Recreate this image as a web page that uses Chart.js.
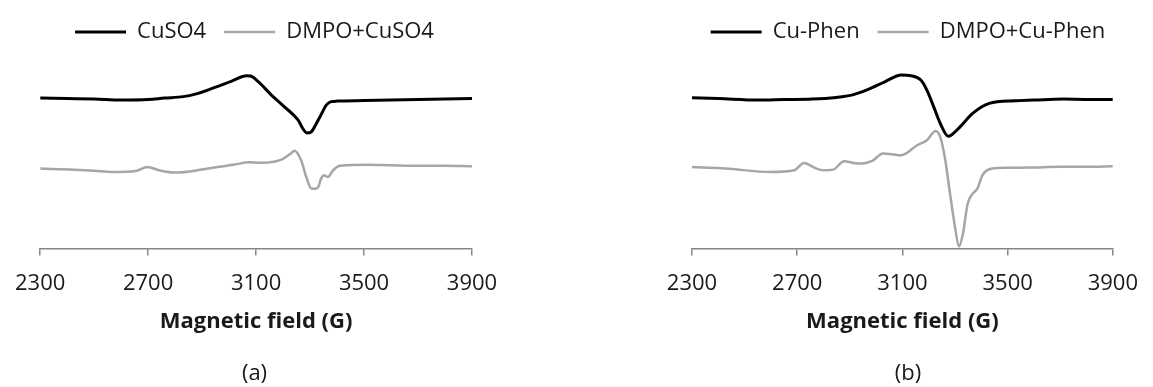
<!DOCTYPE html>
<html lang="en">
<head>
<meta charset="UTF-8">
<title>EPR spectra - CuSO4 / Cu-Phen</title>
<script src="https://cdn.jsdelivr.net/npm/chart.js"></script>
<style>
    html, body { margin: 0; padding: 0; background: #fff; overflow: hidden; }
    .panel { position: absolute; top: 0; height: 387px; }
    #panelA { left: 0; width: 576px; }
    #panelB { left: 576px; width: 577px; }
</style>
</head>
<body>
<div class="panel" id="panelA"><canvas id="chartA"></canvas></div>
<div class="panel" id="panelB"><canvas id="chartB"></canvas></div>

<script>
// tick labels and texts
const fieldTicks = [2300, 2700, 3100, 3500, 3900];
const namesA = ['CuSO4', 'DMPO+CuSO4'];
const namesB = ['Cu-Phen', 'DMPO+Cu-Phen'];
const axisTitle = 'Magnetic field (G)';

// (a) CuSO4 - magnetic field (G) / signal (arbitrary units)
const cuso4Field  = [2300, 2400, 2500, 2600, 2700, 2760, 2830, 2875, 2950, 3010, 3065, 3080, 3110, 3157, 3205, 3256, 3273, 3288, 3304, 3320, 3340, 3360, 3378, 3400, 3500, 3600, 3700, 3800, 3900];
const cuso4Signal = [150, 149.5, 149, 148, 148.5, 150, 151.5, 154, 161, 167, 172.3, 172, 166, 153, 141.3, 128, 119.7, 115.3, 116.3, 123, 133, 143, 146.5, 147, 147.5, 148, 148.5, 149, 149.5];

// (a) DMPO+CuSO4
const dmpoCuso4Field  = [2300, 2410, 2500, 2568, 2653, 2697, 2741, 2800, 2900, 2950, 3021, 3072, 3120, 3194, 3230, 3242, 3267, 3286, 3304, 3318, 3330, 3341, 3352, 3366, 3385, 3403, 3414, 3514, 3600, 3700, 3800, 3900];
const dmpoCuso4Signal = [79.7, 78.7, 77.5, 76.3, 77.3, 81.3, 78, 75.7, 78.7, 81, 83.7, 86, 85.5, 88.7, 95, 97.5, 88, 71.3, 60, 59.5, 61, 69.7, 73, 71.3, 78, 82, 82.5, 83.5, 83, 82.5, 82.5, 82];

// (b) Cu-Phen
const cuPhenField  = [2300, 2400, 2552, 2650, 2756, 2848, 2907, 2970, 3033, 3096, 3133, 3170, 3193, 3219, 3244, 3274, 3285, 3319, 3367, 3430, 3526, 3600, 3711, 3800, 3900];
const cuPhenSignal = [150.3, 149.5, 148, 148.5, 149, 150.7, 153, 158.7, 166.3, 173, 172.3, 168, 158, 141.3, 124.7, 112, 113, 121.3, 134.7, 144.7, 147.3, 148, 149, 148.7, 148.7];

// (b) DMPO+Cu-Phen
const dmpoCuPhenField  = [2300, 2428, 2600, 2689, 2726, 2770, 2800, 2837, 2878, 2920, 2948, 2985, 3026, 3060, 3096, 3156, 3193, 3226, 3244, 3263, 3281, 3300, 3315, 3330, 3348, 3367, 3385, 3404, 3441, 3500, 3589, 3700, 3800, 3900];
const dmpoCuPhenSignal = [81.3, 79.7, 76.3, 78, 85.3, 80, 78, 78.7, 87, 85, 84.7, 87.3, 94.7, 94, 93, 103, 108, 117.3, 111.3, 88, 54.7, 21.3, 2, 14.7, 44.7, 54.7, 59.7, 73, 79.7, 80.5, 80.7, 81.5, 81.5, 82];

Chart.defaults.font.family = "'Open Sans', sans-serif";
Chart.defaults.font.size = 22;
Chart.defaults.color = '#1a1a1a';

function toPoints(xs, ys) {
    return xs.map((x, i) => ({ x: x, y: ys[i] }));
}

function buildChart(id, names, darkX, darkY, greyX, greyY, caption, padLeft, padRight) {
    return new Chart(document.getElementById(id), {
        type: 'line',
        data: {
            datasets: [
                {
                    label: names[0],
                    data: toPoints(darkX, darkY),
                    borderColor: '#000000',
                    backgroundColor: '#000000',
                    borderWidth: 3,
                    pointRadius: 0,
                    cubicInterpolationMode: 'monotone'
                },
                {
                    label: names[1],
                    data: toPoints(greyX, greyY),
                    borderColor: '#a6a6a6',
                    backgroundColor: '#a6a6a6',
                    borderWidth: 2.5,
                    pointRadius: 0,
                    cubicInterpolationMode: 'monotone'
                }
            ]
        },
        options: {
            responsive: true,
            maintainAspectRatio: false,
            animation: false,
            layout: { padding: { left: padLeft, right: padRight, top: 3, bottom: 0 } },
            plugins: {
                legend: {
                    position: 'top',
                    labels: { boxWidth: 51, boxHeight: 0, padding: 18, font: { size: 22 } }
                },
                title: {
                    display: true,
                    text: caption,
                    position: 'bottom',
                    font: { size: 22, weight: 'normal' },
                    padding: { top: 18, bottom: 0 }
                },
                tooltip: { enabled: false }
            },
            scales: {
                x: {
                    type: 'linear',
                    min: 2300,
                    max: 3900,
                    afterBuildTicks: axis => { axis.ticks = fieldTicks.map(v => ({ value: v })); },
                    ticks: { padding: 15, maxRotation: 0, callback: v => String(v) },
                    grid: { drawOnChartArea: false, color: '#868686', lineWidth: 1.5, tickLength: 7 },
                    border: { color: '#868686', width: 1.5 },
                    title: {
                        display: true,
                        text: axisTitle,
                        font: { size: 22, weight: 'bold', lineHeight: 0.85 },
                        padding: { top: 0, bottom: 12 }
                    }
                },
                y: { display: false, min: 0, max: 195 }
            }
        }
    });
}

buildChart('chartA', namesA, cuso4Field, cuso4Signal, dmpoCuso4Field, dmpoCuso4Signal, '(a)', 37, 104);
buildChart('chartB', namesB, cuPhenField, cuPhenSignal, dmpoCuPhenField, dmpoCuPhenSignal, '(b)', 116, 29);
</script>
</body>
</html>
